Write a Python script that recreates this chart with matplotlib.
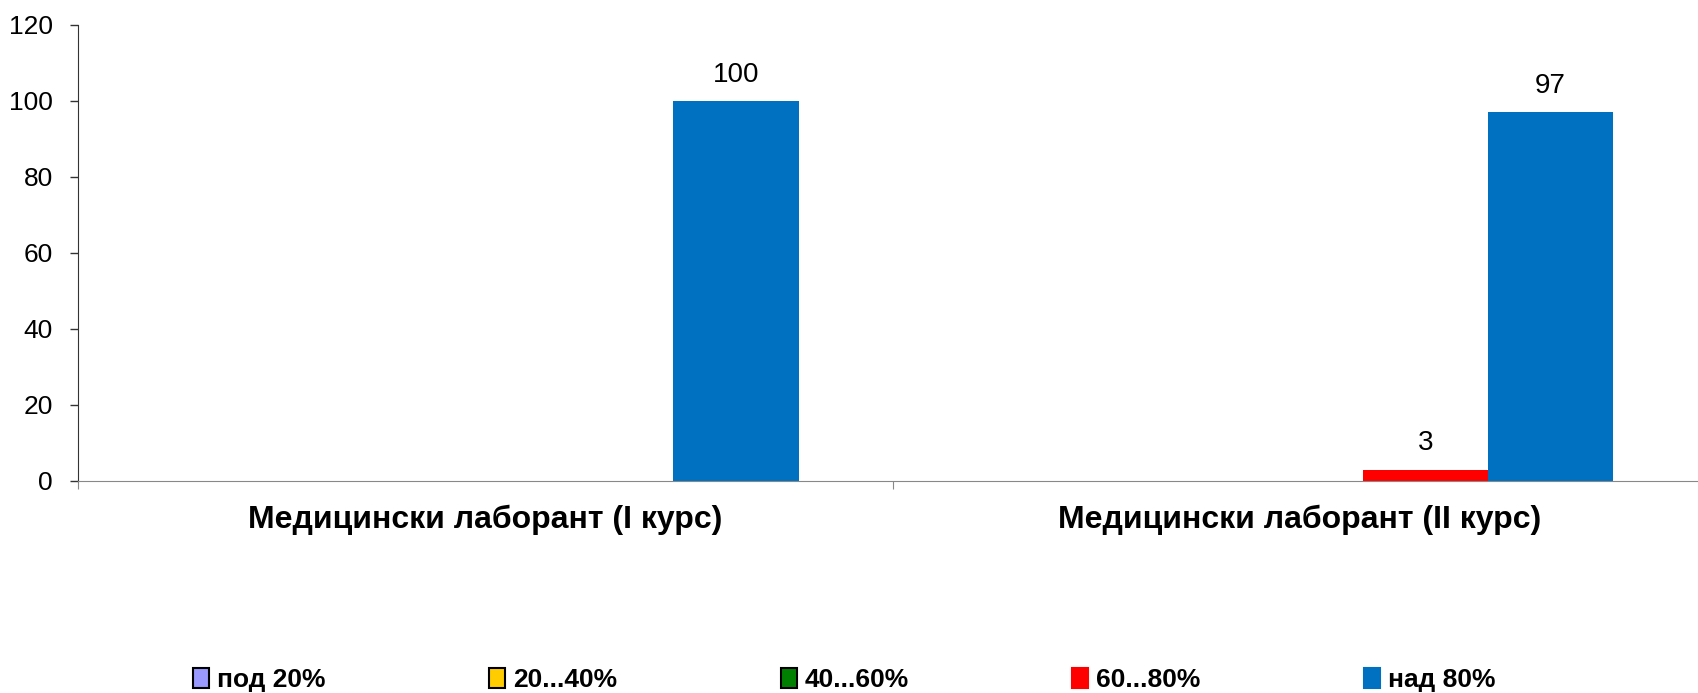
import numpy as np
import matplotlib.pyplot as plt
from matplotlib.patches import Patch

plt.rcParams['font.family'] = ['Liberation Sans', 'DejaVu Sans']

categories = ['Медицински лаборант (I курс)', 'Медицински лаборант (II курс)']
series = ['под 20%', '20...40%', '40...60%', '60...80%', 'над 80%']
values = [
    [0, 0],
    [0, 0],
    [0, 0],
    [0, 3],
    [100, 97],
]
colors = ['#9999FF', '#FFCC00', '#008000', '#FF0000', '#0070C0']

fig = plt.figure(figsize=(16.99, 6.93), dpi=100)
ax = fig.add_axes([0.0459, 0.306, 0.959, 0.658])

x = np.arange(len(categories))
w = 1 / 6.5
for i, (name, vals) in enumerate(zip(series, values)):
    pos = x + (i - 2) * w
    ax.bar(pos, vals, width=w, color=colors[i], linewidth=0)
    for p, v in zip(pos, vals):
        if v != 0:
            ax.text(p, v + 3.5, str(v), ha='center', va='bottom', fontsize=20)

ax.set_xlim(-0.5, 1.5)
ax.set_ylim(0, 120)
ax.set_yticks(range(0, 121, 20))
ax.tick_params(axis='y', labelsize=19, length=6, width=1, color='#333333', pad=12)

ax.set_xticks([-0.5, 0.5, 1.5])
ax.set_xticklabels([])
ax.set_xticks(x, minor=True)
ax.set_xticklabels(categories, minor=True, fontsize=23, fontweight='bold')
ax.tick_params(axis='x', which='major', length=6, color='#888888')
ax.tick_params(axis='x', which='minor', length=0, pad=17)

ax.spines['top'].set_visible(False)
ax.spines['right'].set_visible(False)
ax.spines['left'].set_color('#333333')
ax.spines['bottom'].set_color('#888888')

handles = []
for i in range(5):
    ec = 'black' if i < 3 else colors[i]
    handles.append(Patch(facecolor=colors[i], edgecolor=ec, linewidth=1.5))
fig.legend(handles, series, loc='center', bbox_to_anchor=(0.497, 0.019), ncol=5,
           frameon=False, prop={'size': 19, 'weight': 'bold'},
           handlelength=0.6, handleheight=0.8, handletextpad=0.3, columnspacing=6.2,
           borderpad=0)

fig.savefig('out.png')
